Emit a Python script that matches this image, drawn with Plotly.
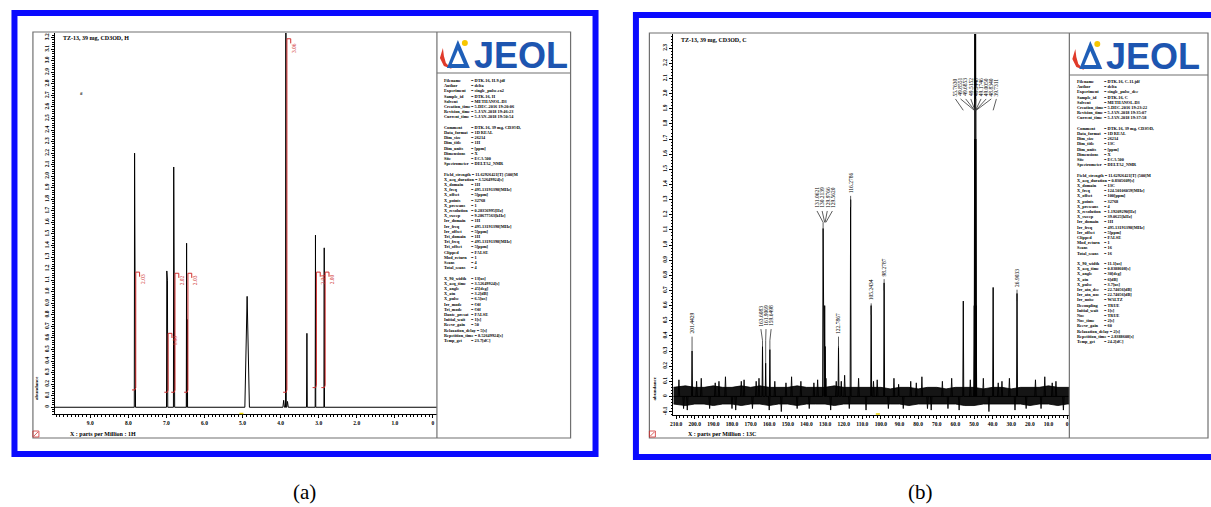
import plotly.graph_objects as go

W, H = 1211, 507


def X(p):
    return p / W


def Y(p):
    return 1 - p / H


# ---------------- (a) 1H spectrum ----------------
h_peak_ppm = [7.836, 7.819, 6.990, 6.973, 6.808, 6.791, 6.470, 6.452, 4.880,
              3.920, 3.862, 3.820, 3.310, 3.085, 2.855]
h_peak_height = [2.20, 2.03, 1.18, 1.10, 2.08, 1.95, 1.42, 0.76, 0.96,
                 0.06, 3.60, 0.05, 0.64, 1.49, 1.38]
h_peak_width = [0.008, 0.008, 0.008, 0.008, 0.008, 0.008, 0.008, 0.008, 0.06,
                0.02, 0.01, 0.02, 0.01, 0.008, 0.008]

h_integral_ppm = [7.83, 6.98, 6.80, 6.46, 3.86, 3.085, 2.855]
h_integral_lo = [0.15, 0.13, 0.13, 0.13, 0.13, 0.17, 0.17]
h_integral_hi = [1.17, 0.64, 1.16, 1.16, 3.19, 1.17, 1.17]
h_integral_label = ["2.03", "1.00", "2.02", "2.03", "3.06", "2.04", "2.00"]

h_xtick_vals = [9, 8, 7, 6, 5, 4, 3, 2, 1, 0]
h_xtick_text = ["9.0", "8.0", "7.0", "6.0", "5.0", "4.0", "3.0", "2.0", "1.0", "0"]
h_ytick_vals = [i / 10 for i in range(0, 33)]
h_ytick_text = ["0"] + ["%.1f" % (i / 10) for i in range(1, 33)]

# ---------------- (b) 13C spectrum ----------------
c_label_groups = [
    ["201.4429"],
    ["163.6083", "161.9069", "159.6498"],
    ["131.0621", "130.2139", "129.9766", "129.5620"],
    ["122.7867"],
    ["116.2786"],
    ["105.2434"],
    ["98.2787"],
    ["55.7630", "49.8551", "49.6853", "49.5152", "49.3448", "49.1746",
     "49.0050", "48.8340", "39.7311"],
    ["26.9033"],
]
c_label_heights = {
    "201.4429": 0.30, "163.6083": 0.33, "161.9069": 0.22, "159.6498": 0.31,
    "131.0621": 1.11, "130.2139": 0.60, "129.9766": 0.33, "129.5620": 0.12,
    "122.7867": 0.33, "116.2786": 1.30, "105.2434": 0.60, "98.2787": 0.75,
    "55.7630": 0.63, "49.8551": 0.60, "49.6853": 1.70, "49.5152": 3.40,
    "49.3448": 4.00, "49.1746": 3.40, "49.0050": 1.70, "48.8340": 0.60,
    "39.7311": 0.72, "26.9033": 0.68,
}
c_extra_ppm = [121.3, 90.5]
c_extra_height = [0.10, 0.08]

# baseline noise envelope
c_noise_ppm = [211.5, 205, 200, 195, 190, 185, 180, 175, 170, 165, 160, 155, 150,
               145, 140, 135, 130, 125, 120, 115, 110, 105, 100, 95, 90, 85, 80,
               75, 70, 65, 60, 55, 50, 45, 40, 35, 30, 25, 20, 15, 10, 5, 0, -1.2]
c_noise_hi = [0.06, 0.07, 0.06, 0.06, 0.07, 0.06, 0.06, 0.07, 0.06, 0.07, 0.06,
              0.06, 0.06, 0.07, 0.06, 0.06, 0.06, 0.07, 0.06, 0.06, 0.06, 0.06,
              0.06, 0.05, 0.06, 0.06, 0.05, 0.06, 0.06, 0.05, 0.06, 0.06, 0.06,
              0.05, 0.06, 0.06, 0.05, 0.06, 0.06, 0.06, 0.07, 0.06, 0.06, 0.06]
c_noise_lo = [-0.05, -0.06, -0.05, -0.05, -0.06, -0.05, -0.05, -0.06, -0.05, -0.05,
              -0.06, -0.05, -0.05, -0.06, -0.05, -0.05, -0.05, -0.06, -0.05, -0.05,
              -0.05, -0.05, -0.05, -0.05, -0.05, -0.06, -0.05, -0.05, -0.05, -0.05,
              -0.05, -0.06, -0.06, -0.05, -0.05, -0.05, -0.05, -0.05, -0.06, -0.05,
              -0.05, -0.06, -0.05, -0.05]
c_spike_ppm = [208.5, 206, 204, 199, 196.5, 192, 189, 187, 183.5, 180, 178, 175,
               173.5, 169, 167, 165.5, 160, 157, 153.5, 151, 148, 145, 143, 138.5,
               136, 134, 127, 124, 119.5, 117, 112, 108, 104, 102, 96, 93, 88, 84,
               81, 78, 75, 73, 67, 64, 62, 58, 52, 45, 42, 37, 35, 31, 28, 22, 17,
               14, 12, 8, 6, 2]
c_spike_val = [0.11, -0.08, -0.09, 0.10, 0.12, -0.08, 0.09, 0.10, 0.13, -0.08,
               -0.09, 0.10, 0.11, -0.08, 0.10, 0.12, -0.09, 0.10, -0.10, 0.09, 0.13,
               -0.08, 0.10, -0.08, 0.09, 0.11, -0.09, 0.10, 0.14, -0.08, 0.12, -0.09,
               0.10, 0.11, -0.08, 0.12, -0.08, 0.10, 0.09, 0.13, -0.08, -0.09, 0.10,
               -0.08, 0.12, -0.09, 0.11, 0.12, -0.10, 0.09, 0.10, 0.12, -0.09,
               -0.08, 0.11, -0.08, 0.13, 0.09, 0.10, -0.09]

c_xtick_vals = list(range(210, -1, -10))
c_xtick_text = ["%.1f" % v for v in range(210, 0, -10)] + ["0"]
c_ytick_vals = [i / 10 for i in range(-1, 24)]
c_ytick_text = ["%.1f" % (i / 10) if i != 0 else "0" for i in range(-1, 24)]

# acquisition parameters printed beside each spectrum
h_params = [
    ("Filename", "DTK-16, H-9.jdf"), ("Author", "delta"),
    ("Experiment", "single_pulse.ex2"), ("Sample_id", "DTK-16, H"),
    ("Solvent", "METHANOL-D3"), ("Creation_time", "5-DEC-2016 19:20:06"),
    ("Revision_time", "5-JAN-2018 19:46:23"), ("Current_time", "5-JAN-2018 19:50:54"),
    None,
    ("Comment", "DTK-16, 39 mg, CD3OD,"), ("Data_format", "1D REAL"),
    ("Dim_size", "26214"), ("Dim_title", "1H"), ("Dim_units", "[ppm]"),
    ("Dimensions", "X"), ("Site", "ECA 500"), ("Spectrometer", "DELTA2_NMR"),
    None,
    ("Field_strength", "11.62926421[T] (500[M"), ("X_acq_duration", "3.52649924[s]"),
    ("X_domain", "1H"), ("X_freq", "495.13191398[MHz]"), ("X_offset", "5[ppm]"),
    ("X_points", "32768"), ("X_prescans", "1"), ("X_resolution", "0.28356995[Hz]"),
    ("X_sweep", "9.28677563[kHz]"), ("Irr_domain", "1H"),
    ("Irr_freq", "495.13191398[MHz]"), ("Irr_offset", "5[ppm]"),
    ("Tri_domain", "1H"), ("Tri_freq", "495.13191398[MHz]"), ("Tri_offset", "5[ppm]"),
    ("Clipped", "FALSE"), ("Mod_return", "1"), ("Scans", "4"), ("Total_scans", "4"),
    None,
    ("X_90_width", "13[us]"), ("X_acq_time", "3.52649924[s]"), ("X_angle", "45[deg]"),
    ("X_atn", "3.2[dB]"), ("X_pulse", "6.5[us]"), ("Irr_mode", "Off"),
    ("Tri_mode", "Off"), ("Dante_presat", "FALSE"), ("Initial_wait", "1[s]"),
    ("Recvr_gain", "50"), ("Relaxation_delay", "5[s]"),
    ("Repetition_time", "8.52649924[s]"), ("Temp_get", "23.7[dC]"),
]
c_params = [
    ("Filename", "DTK-16, C-11.jdf"), ("Author", "delta"),
    ("Experiment", "single_pulse_dec"), ("Sample_id", "DTK-16, C"),
    ("Solvent", "METHANOL-D3"), ("Creation_time", "5-DEC-2016 19:23:22"),
    ("Revision_time", "5-JAN-2018 19:35:07"), ("Current_time", "5-JAN-2018 19:37:58"),
    None,
    ("Comment", "DTK-16, 39 mg, CD3OD,"), ("Data_format", "1D REAL"),
    ("Dim_size", "26214"), ("Dim_title", "13C"), ("Dim_units", "[ppm]"),
    ("Dimensions", "X"), ("Site", "ECA 500"), ("Spectrometer", "DELTA2_NMR"),
    None,
    ("Field_strength", "11.62926421[T] (500[M"), ("X_acq_duration", "0.8305609[s]"),
    ("X_domain", "13C"), ("X_freq", "124.50106059[MHz]"), ("X_offset", "100[ppm]"),
    ("X_points", "32768"), ("X_prescans", "4"), ("X_resolution", "1.19209290[Hz]"),
    ("X_sweep", "39.0625[kHz]"), ("Irr_domain", "1H"),
    ("Irr_freq", "495.13191398[MHz]"), ("Irr_offset", "5[ppm]"),
    ("Clipped", "FALSE"), ("Mod_return", "1"), ("Scans", "16"), ("Total_scans", "16"),
    None,
    ("X_90_width", "11.1[us]"), ("X_acq_time", "0.8388608[s]"), ("X_angle", "30[deg]"),
    ("X_atn", "6[dB]"), ("X_pulse", "3.7[us]"), ("Irr_atn_dec", "22.74056[dB]"),
    ("Irr_atn_noe", "22.74056[dB]"), ("Irr_noise", "WALTZ"), ("Decoupling", "TRUE"),
    ("Initial_wait", "1[s]"), ("Noe", "TRUE"), ("Noe_time", "2[s]"),
    ("Recvr_gain", "60"), ("Relaxation_delay", "2[s]"),
    ("Repetition_time", "2.8388608[s]"), ("Temp_get", "24.2[dC]"),
]

# ---------------- layout geometry (pixels) ----------------
A = dict(blue=(11.5, 13, 594, 454), frame=(30, 32, 569, 438), div=435, logo_y=73,
         plot_x=(52, 435), plot_y=(414.3, 33), xr=[9.93, -0.105], yr=[-0.061, 3.24],
         title="TZ-13, 39 mg, CD3OD, H", xtitle="X : parts per Million : 1H",
         title_xy=(58, 38), xtitle_xy=(65, 434), abund_xy=(33, 388),
         param_x=(440, 467), param_y0=80.5, logo_x=437, caption_x=302, caption="(a)")
B = dict(blue=(634.5, 15, 1216, 457), frame=(648, 33, 1208, 438), div=1069, logo_y=75,
         plot_x=(672, 1069), plot_y=(415, 34), xr=[211.5, -1.2], yr=[-0.1225, 2.394],
         title="TZ-13, 39 mg, CD3OD, C", xtitle="X : parts per Million : 13C",
         title_xy=(678, 40), xtitle_xy=(685, 434), abund_xy=(653, 388),
         param_x=(1075, 1102), param_y0=81.5, logo_x=1071, caption_x=920, caption="(b)")

SERIF = "Liberation Serif"
fig = go.Figure()


def stick_xy(ppm, heights, widths, left, right):
    pts = sorted(zip(ppm, heights, widths), key=lambda t: -t[0])
    xs, ys = [left], [0]
    for p, h, w in pts:
        xs += [p + w, p, p - w]
        ys += [0, h, 0]
    xs.append(right)
    ys.append(0)
    return xs, ys


# spectrum (a)
xs, ys = stick_xy(h_peak_ppm, h_peak_height, h_peak_width, A["xr"][0], A["xr"][1])
fig.add_trace(go.Scatter(x=xs, y=ys, mode="lines", line=dict(color="black", width=1),
                         xaxis="x", yaxis="y", hoverinfo="skip"))

# integral curves (a)
ix, iy = [], []
for p, lo, hi in zip(h_integral_ppm, h_integral_lo, h_integral_hi):
    q = p - 0.025
    ix += [q + 0.10, q + 0.02, q, q, q - 0.10, q - 0.10, None]
    iy += [lo, lo, lo + 0.02, hi, hi, hi - 0.04, None]
fig.add_trace(go.Scatter(x=ix, y=iy, mode="lines", line=dict(color="#d03030", width=1),
                         xaxis="x", yaxis="y", hoverinfo="skip"))

# spectrum (b): noise band, spikes, peaks
fig.add_trace(go.Scatter(x=c_noise_ppm + c_noise_ppm[::-1], y=c_noise_hi + c_noise_lo[::-1],
                         fill="toself", fillcolor="#151515", mode="lines",
                         line=dict(width=0.8, color="#000000"),
                         xaxis="x2", yaxis="y2", hoverinfo="skip"))
sx, sy = [], []
for s, v in zip(c_spike_ppm, c_spike_val):
    sx += [s + 0.4, s, s - 0.4, None]
    sy += [0, v, 0, None]
fig.add_trace(go.Scatter(x=sx, y=sy, mode="lines", line=dict(color="black", width=0.9),
                         xaxis="x2", yaxis="y2", hoverinfo="skip"))

c_all_lab = [lab for g in c_label_groups for lab in g]
c_ppm = [float(l) for l in c_all_lab] + c_extra_ppm
c_h = [c_label_heights[l] for l in c_all_lab] + c_extra_height
xs, ys = stick_xy(c_ppm, c_h, [0.25] * len(c_ppm), B["xr"][0], B["xr"][1])
fig.add_trace(go.Scatter(x=xs, y=ys, mode="lines", line=dict(color="black", width=1),
                         xaxis="x2", yaxis="y2", hoverinfo="skip"))

# peak labels with their stems (b)
label_base = [0.40, 0.45, 1.23, 0.40, 1.33, 0.62, 0.78, 1.97, 0.71]
ppm_per_label = 2.75
annotations = []
stx, sty = [], []
for grp, base in zip(c_label_groups, label_base):
    vals = [float(g) for g in grp]
    centre = sum(vals) / len(vals)
    n = len(vals)
    for i, (lab, v) in enumerate(zip(grp, vals)):
        lx = centre + ((n - 1) / 2 - i) * ppm_per_label
        annotations.append(dict(x=lx, y=base, xref="x2", yref="y2", text=lab,
                                textangle=-90, showarrow=False, xanchor="center",
                                yanchor="bottom",
                                font=dict(family=SERIF, size=5.5, color="black")))
        stx += [lx, v, None]
        sty += [base - 0.005, base - 0.08, None]
        top = c_label_heights[lab]
        if top < base - 0.08 and base - top < 0.3:
            stx += [v, v, None]
            sty += [base - 0.08, top, None]
fig.add_trace(go.Scatter(x=stx, y=sty, mode="lines", line=dict(color="#333333", width=0.8),
                         xaxis="x2", yaxis="y2", hoverinfo="skip"))

# integral labels (a)
for p, hi, lab in zip(h_integral_ppm, h_integral_hi, h_integral_label):
    annotations.append(dict(x=p - 0.21, y=min(hi, 3.17), xref="x", yref="y", text=lab,
                            textangle=-90, showarrow=False, xanchor="center", yanchor="top",
                            font=dict(family=SERIF, size=5.5, color="#d03030")))

shapes = []


def rect(x0, y0, x1, y1, color, width, fill=None):
    shapes.append(dict(type="rect", xref="paper", yref="paper", x0=X(x0), x1=X(x1),
                       y0=Y(y0), y1=Y(y1), line=dict(color=color, width=width),
                       fillcolor=fill or "rgba(0,0,0,0)", layer="above"))


def seg(x0, y0, x1, y1, color, width):
    shapes.append(dict(type="line", xref="paper", yref="paper", x0=X(x0), x1=X(x1),
                       y0=Y(y0), y1=Y(y1), line=dict(color=color, width=width), layer="above"))


def path(points, fill, color="rgba(0,0,0,0)", width=0, close=True):
    d = "M " + " L ".join("%f,%f" % (X(a), Y(b)) for a, b in points) + (" Z" if close else "")
    shapes.append(dict(type="path", xref="paper", yref="paper", path=d, fillcolor=fill,
                       line=dict(color=color, width=width), layer="above"))


def txt(x, y, s, size=5.5, color="black", angle=0, xanchor="left", yanchor="middle",
        family=SERIF, weight="bold"):
    annotations.append(dict(x=X(x), y=Y(y), xref="paper", yref="paper", text=s,
                            showarrow=False, textangle=angle, xanchor=xanchor,
                            yanchor=yanchor,
                            font=dict(family=family, size=size, color=color, weight=weight)))


for P, params in ((A, h_params), (B, c_params)):
    rect(*P["blue"], "#0a0aff", 6)
    fx0, fy0, fx1, fy1 = P["frame"]
    rect(fx0, fy0, fx1, fy1, "#707070", 1.2)
    seg(P["div"], fy0, P["div"], fy1, "#707070", 1.2)
    seg(P["div"], P["logo_y"], fx1, P["logo_y"], "#707070", 1.2)
    txt(*P["title_xy"], P["title"], size=6)
    txt(*P["xtitle_xy"], P["xtitle"], size=6)
    txt(*P["abund_xy"], "abundance", size=5, angle=-90, xanchor="center")
    # corner icon
    cx, cy = fx0 + 3, fy1 - 4
    rect(cx - 3, cy - 3, cx + 3, cy + 3, "#d03030", 0.8)
    seg(cx - 2, cy + 2, cx + 2, cy - 2, "#d03030", 0.8)
    # logo
    lx, ly = P["logo_x"], fy0 + 6
    path([(lx + 4, ly + 10), (lx + 1, ly + 20), (lx + 5, ly + 28), (lx + 13, ly + 31),
          (lx + 7, ly + 25), (lx + 5, ly + 18)], "#e03a2a")
    path([(lx + 19, ly + 2), (lx + 31, ly + 30), (lx + 8, ly + 30)], "#1f5fb8")
    path([(lx + 19, ly + 12), (lx + 25, ly + 26), (lx + 13, ly + 26)], "white")
    shapes.append(dict(type="circle", xref="paper", yref="paper", x0=X(lx + 23),
                       x1=X(lx + 29), y0=Y(ly + 2), y1=Y(ly + 8), fillcolor="#f7c600",
                       line=dict(width=0), layer="above"))
    txt(lx + 33, ly + 17, "JEOL", size=36, color="#1d55b0", family="Liberation Sans")
    # parameter listing
    nx, vx = P["param_x"]
    y = P["param_y0"]
    for item in params:
        if item is not None:
            name, val = item
            if len(name) > 13:
                txt(nx, y, name + " = " + val, size=4.3)
            else:
                txt(nx, y, name, size=4.3)
                txt(vx, y, "= " + val, size=4.3)
        y += 5.2
    txt(P["caption_x"], 492, P["caption"], size=21, color="black",
        xanchor="center", weight="normal")

txt(75, 93, "#", size=5)
# small yellow markers on the ppm axes
seg(237, 413.5, 241, 413.5, "#e8d200", 1.5)
seg(875, 414, 879, 414, "#e8d200", 1.5)

tickfont = dict(family=SERIF, size=5.5, color="black", weight="bold")


def axis_pair(P, xticks, xtext, yticks, ytext, xminor, yminor, suffix):
    x0, x1 = P["plot_x"]
    yb, yt = P["plot_y"]
    xa = dict(domain=[X(x0), X(x1)], range=P["xr"], tickmode="array", tickvals=xticks,
              ticktext=xtext, ticks="outside", ticklen=3, tickwidth=0.8, tickcolor="black",
              showline=True, linecolor="black", linewidth=1, showgrid=False,
              zeroline=False, tickfont=tickfont, tickangle=0, anchor="y" + suffix,
              minor=dict(tickmode="array", tickvals=xminor, ticks="outside", ticklen=1.5,
                         tickcolor="black", tickwidth=0.6, showgrid=False))
    ya = dict(domain=[Y(yb), Y(yt)], range=P["yr"], tickmode="array", tickvals=yticks,
              ticktext=ytext, ticks="outside", ticklen=3, tickwidth=0.8, tickcolor="black",
              showline=True, linecolor="black", linewidth=1, showgrid=False,
              zeroline=False, tickfont=tickfont, tickangle=-90, anchor="x" + suffix,
              minor=dict(tickmode="array", tickvals=yminor, ticks="outside", ticklen=1.5,
                         tickcolor="black", tickwidth=0.6, showgrid=False))
    return xa, ya


xa1, ya1 = axis_pair(A, h_xtick_vals, h_xtick_text, h_ytick_vals, h_ytick_text,
                     [i / 10 for i in range(0, 100)], [i / 50 for i in range(-3, 162)], "")
xa2, ya2 = axis_pair(B, c_xtick_vals, c_xtick_text, c_ytick_vals, c_ytick_text,
                     [i * 2 for i in range(0, 106)], [i / 50 for i in range(-6, 120)], "2")

fig.update_layout(width=W, height=H, margin=dict(l=0, r=0, t=0, b=0),
                  paper_bgcolor="white", plot_bgcolor="rgba(0,0,0,0)", showlegend=False,
                  xaxis=xa1, yaxis=ya1, xaxis2=xa2, yaxis2=ya2,
                  shapes=shapes, annotations=annotations)

fig.write_html("out.html")
